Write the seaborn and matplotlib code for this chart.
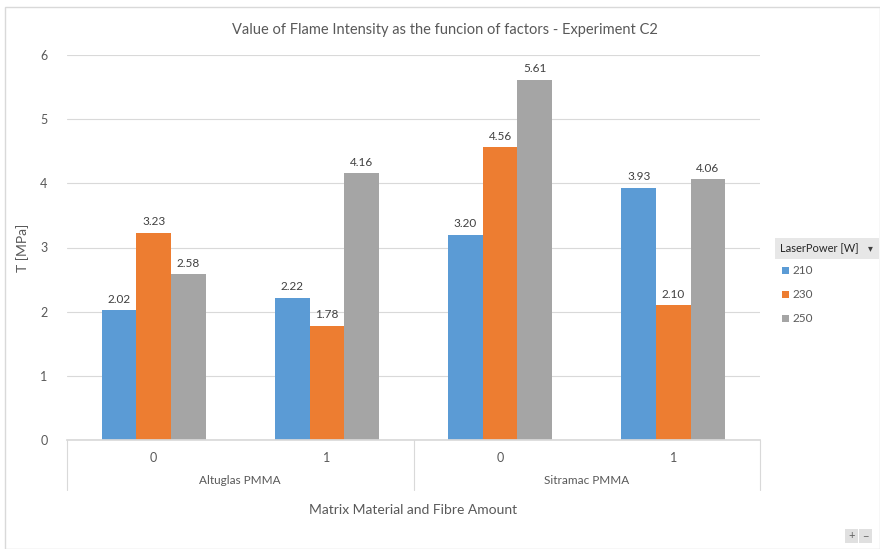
import matplotlib
matplotlib.use("Agg")
import matplotlib.pyplot as plt
import matplotlib.patches as mpatches
import seaborn as sns
import pandas as pd

# Data
materials = ["Altuglas PMMA", "Altuglas PMMA", "Sitramac PMMA", "Sitramac PMMA"]
fibre = ["0", "1", "0", "1"]
power_levels = ["210", "230", "250"]
values_210 = [2.02, 2.22, 3.20, 3.93]
values_230 = [3.23, 1.78, 4.56, 2.10]
values_250 = [2.58, 4.16, 5.61, 4.06]

colors = ["#5B9BD5", "#ED7D31", "#A5A5A5"]

rows = []
for i, (m, f) in enumerate(zip(materials, fibre)):
    cat = f"{m}|{f}"
    for p, vals in zip(power_levels, [values_210, values_230, values_250]):
        rows.append({"cat": cat, "power": p, "value": vals[i]})
df = pd.DataFrame(rows)
cat_order = [f"{m}|{f}" for m, f in zip(materials, fibre)]

sns.set_theme(style="white")
plt.rcParams["font.family"] = ["Lato", "DejaVu Sans"]

W, H = 880, 549
fig = plt.figure(figsize=(W / 100, H / 100), dpi=100)
ax = fig.add_axes([67 / W, 1 - 440 / H, (760 - 67) / W, (440 - 55) / H])

sns.barplot(data=df, x="cat", y="value", hue="power", order=cat_order,
            hue_order=power_levels, palette=colors, width=0.6,
            saturation=1, errorbar=None, linewidth=0, ax=ax)

for cont in ax.containers:
    ax.bar_label(cont, fmt="%.2f", padding=4, fontsize=8.5, color="#404040")

ax.set_ylim(0, 6)
ax.set_xlim(-0.5, 3.5)
ax.set_yticks(range(0, 7))
ax.grid(axis="y", color="#D9D9D9", linewidth=0.8)
ax.set_axisbelow(True)
for s in ["top", "right", "left"]:
    ax.spines[s].set_visible(False)
ax.spines["bottom"].set_color("#D9D9D9")
ax.tick_params(axis="y", length=0, labelsize=9, labelcolor="#595959", pad=14)
ax.set_xticks(range(4))
ax.set_xticklabels(fibre)
ax.tick_params(axis="x", length=0, labelsize=9, labelcolor="#595959", pad=9)
ax.set_xlabel("")
ax.set_ylabel("T [MPa]", fontsize=10, color="#595959", labelpad=8)

# Hierarchical category axis: group labels and separators
trans = ax.get_xaxis_transform()
for x in [-0.5, 1.5, 3.5]:
    ax.plot([x, x], [0, -50 / 385], transform=trans, color="#D9D9D9",
            linewidth=0.8, clip_on=False)
groups = ["Altuglas PMMA", "Sitramac PMMA"]
for gi, g in enumerate(groups):
    ax.text(gi * 2 + 0.5, -40 / 385, g, transform=trans, ha="center",
            va="center", fontsize=8.5, color="#595959")

fig.text(0.5 * (67 + 760) / W, 1 - 510 / H, "Matrix Material and Fibre Amount",
         ha="center", va="center", fontsize=10, color="#595959")
fig.text(445 / W, 1 - 30 / H,
         "Value of Flame Intensity as the funcion of factors - Experiment C2",
         ha="center", va="center", fontsize=10.5, color="#595959")

# Legend
ax.get_legend().remove()
fig.patches.append(mpatches.Rectangle((775 / W, 1 - 259 / H), 104 / W, 21 / H,
                                      transform=fig.transFigure,
                                      facecolor="#E7E7E7", edgecolor="none"))
fig.text(780 / W, 1 - 248.5 / H, "LaserPower [W]", ha="left", va="center",
         fontsize=8, color="#262626")
fig.text(870 / W, 1 - 248.5 / H, "\u25BE", ha="center", va="center",
         fontsize=7, color="#404040", family=["DejaVu Sans"])
for i, (p, c) in enumerate(zip(power_levels, colors)):
    yc = 1 - (270 + 24 * i) / H
    fig.patches.append(mpatches.Rectangle((782 / W, yc - 3.5 / H), 7 / W, 7 / H,
                                          transform=fig.transFigure,
                                          facecolor=c, edgecolor="none"))
    fig.text(792 / W, yc, p, ha="left", va="center", fontsize=8.5,
             color="#595959")

# Chart frame
fig.patches.append(mpatches.Rectangle((5 / W, 0), 1 - 5 / W, 1 - 7 / H,
                                      transform=fig.transFigure,
                                      facecolor="none", edgecolor="#D9D9D9",
                                      linewidth=1))
# Zoom buttons
for k, sym in enumerate(["+", "\u2212"]):
    x0 = (845 + k * 14) / W
    fig.patches.append(mpatches.Rectangle((x0, 1 - 543 / H), 13 / W, 14 / H,
                                          transform=fig.transFigure,
                                          facecolor="#E0E0E0", edgecolor="none"))
    fig.text(x0 + 6.5 / W, 1 - 536 / H, sym, ha="center", va="center",
             fontsize=8, color="#606060")

fig.savefig("out.png", dpi=100)
